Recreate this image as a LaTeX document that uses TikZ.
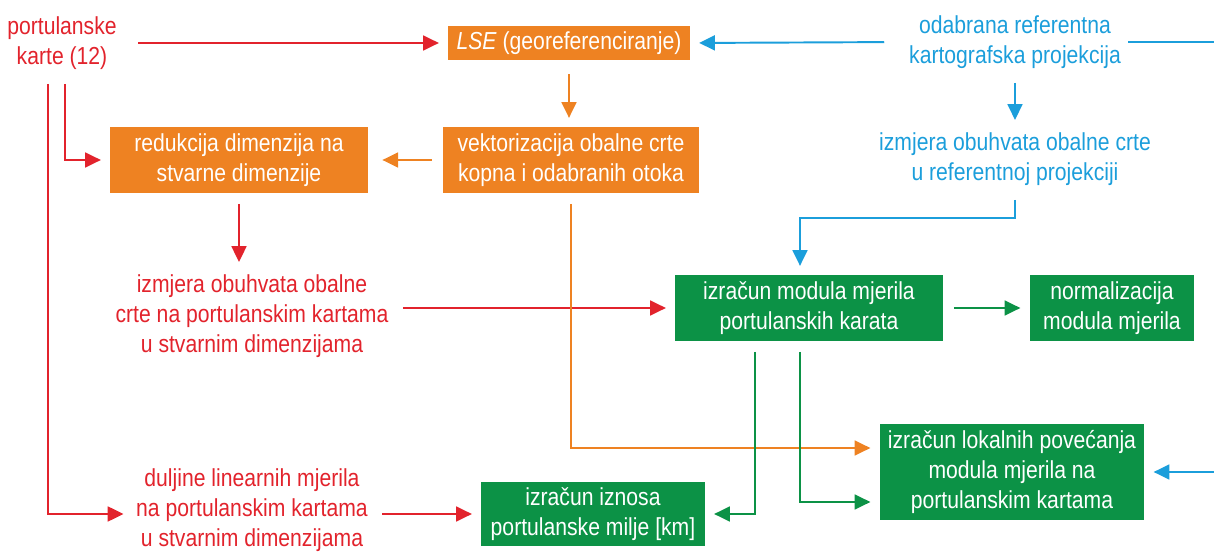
\documentclass[tikz,border=0pt]{standalone}
\usepackage{fontspec}
\setmainfont[FakeStretch=0.86]{Liberation Sans}
\usetikzlibrary{arrows.meta,positioning,calc}

\definecolor{crvena}{RGB}{226,35,44}
\definecolor{narancasta}{RGB}{238,130,34}
\definecolor{zelena}{RGB}{12,146,70}
\definecolor{plava}{RGB}{27,158,219}

\begin{document}
\begin{tikzpicture}[x=0.02cm,y=-0.02cm,
  font=\fontsize{14}{17}\selectfont,
  okvir/.style={fill=#1,text=white,align=center,inner sep=0pt},
  tekst/.style={text=#1,align=center,inner sep=2pt},
  strelica/.style={draw=#1,line width=1.1pt,-{Triangle[length=9pt,width=8.5pt]},
    shorten <=6pt,shorten >=5pt}]
  \useasboundingbox (0,0) rectangle (1214,553);
  \clip (0,0) rectangle (1214,553);

  % ulazni podaci
  \node[tekst=crvena] (karte) at (62,43) {portulanske\\karte (12)};
  \node[tekst=plava] (proj) at (1015,42) {odabrana referentna\\kartografska projekcija};
  \node[tekst=plava] (izmref) at (1015,159) {izmjera obuhvata obalne crte\\u referentnoj projekciji};

  % obrada karata (narancasto)
  \node[okvir=narancasta,minimum width=4.84cm,minimum height=0.68cm] (lse) at (569,43)
    {\textit{LSE} (georeferenciranje)};
  \node[okvir=narancasta,minimum width=5.14cm,minimum height=1.32cm] (vekt) at (571,160)
    {vektorizacija obalne crte\\kopna i odabranih otoka};
  \node[okvir=narancasta,minimum width=5.16cm,minimum height=1.32cm] (redu) at (239,160)
    {redukcija dimenzija na\\stvarne dimenzije};

  % izmjere u stvarnim dimenzijama
  \node[tekst=crvena] (izmport) at (252,316)
    {izmjera obuhvata obalne\\crte na portulanskim kartama\\u stvarnim dimenzijama};
  \node[tekst=crvena] (duljine) at (252,510)
    {duljine linearnih mjerila\\na portulanskim kartama\\u stvarnim dimenzijama};

  % izracuni (zeleno)
  \node[okvir=zelena,minimum width=5.36cm,minimum height=1.32cm] (modul) at (809,308)
    {izračun modula mjerila\\portulanskih karata};
  \node[okvir=zelena,minimum width=3.3cm,minimum height=1.32cm] (norm) at (1112,308)
    {normalizacija\\modula mjerila};
  \node[okvir=zelena,minimum width=5.3cm,minimum height=1.94cm] (lokal) at (1012,472)
    {izračun lokalnih povećanja\\modula mjerila na\\portulanskim kartama};
  \node[okvir=zelena,minimum width=4.48cm,minimum height=1.3cm] (milja) at (593,514)
    {izračun iznosa\\portulanske milje [km]};

  \coordinate (savij) at (800,218);
  \coordinate (desno) at (1250,42);

  % crvene veze
  \draw[strelica=crvena,shorten <=10pt] (karte.east) -- (lse.west);
  \draw[strelica=crvena] ([xshift=0.06cm]karte.south) |- (redu.west);
  \draw[strelica=crvena] ([xshift=-0.28cm]karte.south) |- (duljine.west |- milja.west);
  \draw[strelica=crvena] (redu.south) -- (redu.south |- izmport.north);
  \draw[strelica=crvena] (izmport.east |- modul.west) -- (modul.west);
  \draw[strelica=crvena] (duljine.east |- milja.west) -- (milja.west);

  % narancaste veze
  \draw[strelica=narancasta,shorten <=8pt] (lse.south) -- (lse.south |- vekt.north);
  \draw[strelica=narancasta,shorten >=8pt] (vekt.west) -- (redu.east);
  \draw[strelica=narancasta] (vekt.south) |- ([yshift=0.48cm]lokal.west);

  % plave veze
  \draw[strelica=plava,shorten <=12pt] (proj.west) -- (lse.east);
  \draw[strelica=plava] (proj.south) -- (izmref.north);
  \draw[strelica=plava] (izmref.south) |- (savij) -- (savij |- modul.north);
  \draw[strelica=plava,shorten <=2pt] (proj.east) -- (desno) |- (lokal.east);

  % zelene veze
  \draw[strelica=zelena] (modul.east) -- (norm.west);
  \draw[strelica=zelena] ([xshift=-1.08cm]modul.south) |- (milja.east);
  \draw[strelica=zelena] ([xshift=-0.18cm]modul.south) |- ([yshift=-0.6cm]lokal.west);
\end{tikzpicture}
\end{document}
